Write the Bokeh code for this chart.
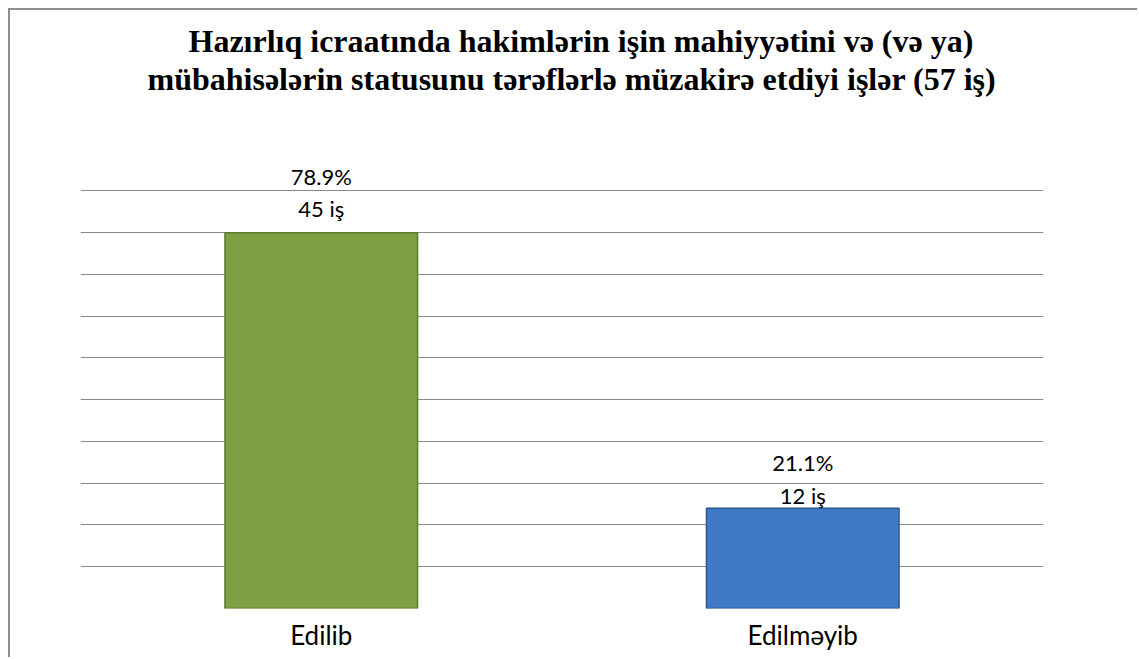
from bokeh.plotting import figure
from bokeh.models import Range1d, SingleIntervalTicker, Title, ColumnDataSource
from bokeh.embed import file_html
from bokeh.resources import INLINE
from bokeh.core.properties import value

# ---- data ----
categories = ["Edilib", "Edilməyib"]
counts = [45, 12]
percent_labels = ["78.9%", "21.1%"]
count_labels = ["45 iş", "12 iş"]
title_line1 = "Hazırlıq icraatında hakimlərin işin mahiyyətini və (və ya)"
title_line2 = "mübahisələrin statusunu tərəflərlə müzakirə etdiyi işlər (57 iş)"

# ---- styles ----
bar_colors = ["#7F9F45", "#4079C4"]
bar_line_colors = ["#5C7A2E", "#2C5A94"]
pct_offsets = [-56, -46]
cnt_offsets = [-24, -13]

src = ColumnDataSource(dict(
    cat=categories, val=counts, pct=percent_labels, cnt=count_labels,
    fill=bar_colors, line=bar_line_colors, poff=pct_offsets, coff=cnt_offsets,
))

p = figure(
    x_range=categories, y_range=Range1d(0, 54),
    width=1129, height=649,
    output_backend="svg", toolbar_location=None,
    min_border_left=70, min_border_right=96, min_border_top=147, min_border_bottom=51,
    title=None,
    styles={"border-left": "2px solid #8f8f8f", "border-top": "2px solid #8f8f8f",
            "margin-left": "8px", "margin-top": "8px"},
)
p.outline_line_color = None
p.background_fill_color = "white"
p.border_fill_color = "white"

spacer = Title(text=" ", text_font_size="1px", standoff=58)
t1 = Title(text=title_line1, align="left", offset=108, text_font="Liberation Serif",
           text_font_style="bold", text_font_size="32px", text_color="black",
           standoff=0, text_line_height=0.85)
t2 = Title(text=title_line2, align="left", offset=67, text_font="Liberation Serif",
           text_font_style="bold", text_font_size="32px", text_color="black",
           standoff=0, text_line_height=0.85)
p.add_layout(spacer, "above")
p.add_layout(t2, "above")
p.add_layout(t1, "above")

p.vbar(x="cat", top="val", width=0.4, source=src, fill_color="fill", line_color="line", line_width=1.5)

p.text(x="cat", y="val", text="pct", y_offset="poff", source=src,
       text_align="center", text_baseline="middle",
       text_font=value("Lato"), text_font_size="22px", text_color="black")
p.text(x="cat", y="val", text="cnt", y_offset="coff", source=src,
       text_align="center", text_baseline="middle",
       text_font=value("Lato"), text_font_size="22px", text_color="black")

p.xgrid.visible = False
p.ygrid.ticker = SingleIntervalTicker(interval=5)
p.ygrid.bounds = (0, 50)
p.ygrid.grid_line_color = "#8a8a8a"
p.ygrid.grid_line_width = 1
p.yaxis.visible = False

p.xaxis.axis_line_color = None
p.xaxis.major_tick_line_color = None
p.xaxis.minor_tick_line_color = None
p.xaxis.major_label_text_font = "Lato"
p.xaxis.major_label_text_font_size = "26px"
p.xaxis.major_label_text_color = "black"
p.xaxis.major_label_standoff = 4

open("out.html", "w").write(file_html(p, INLINE))
